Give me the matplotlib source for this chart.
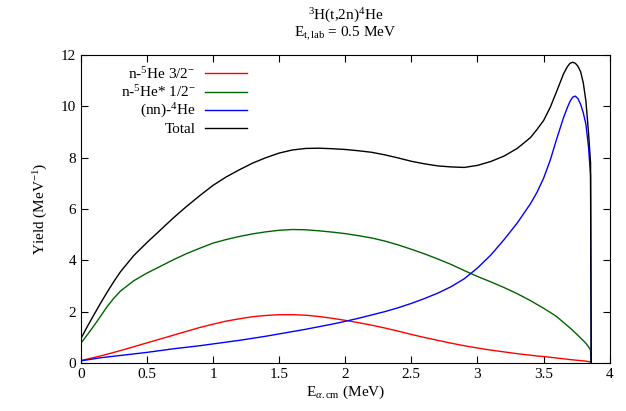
import matplotlib
matplotlib.use('Agg')
import matplotlib.pyplot as plt
from matplotlib.ticker import FormatStrFormatter, MultipleLocator

plt.rcParams['font.family'] = ['Liberation Serif', 'DejaVu Serif']
plt.rcParams['mathtext.fontset'] = 'custom'
plt.rcParams['mathtext.rm'] = 'Liberation Serif'
plt.rcParams['mathtext.it'] = 'Liberation Serif:italic'

# ====== data ======
e_cm = [0, 0.025, 0.05, 0.1, 0.15, 0.2, 0.25, 0.3, 0.4, 0.5, 0.6, 0.7, 0.8, 0.9,
        1.0, 1.1, 1.2, 1.3, 1.4, 1.5, 1.6, 1.7, 1.8, 1.9, 2.0, 2.1, 2.2, 2.3,
        2.4, 2.5, 2.6, 2.7, 2.8, 2.9, 3.0, 3.1, 3.2, 3.3, 3.4, 3.45, 3.5, 3.55,
        3.6, 3.65, 3.68, 3.7, 3.72, 3.74, 3.76, 3.78, 3.8, 3.82, 3.84, 3.855, 3.86]

y_he5_32 = [0.10, 0.12, 0.15, 0.21, 0.27, 0.34, 0.41, 0.48, 0.63, 0.78, 0.93, 1.08, 1.23, 1.38,
            1.51, 1.63, 1.72, 1.80, 1.85, 1.88, 1.88, 1.86, 1.81, 1.74, 1.66, 1.57, 1.47, 1.36,
            1.24, 1.11, 0.99, 0.88, 0.77, 0.67, 0.58, 0.50, 0.43, 0.36, 0.30, 0.27, 0.25, 0.22,
            0.19, 0.16, 0.145, 0.13, 0.12, 0.11, 0.10, 0.09, 0.08, 0.07, 0.05, 0.04, 0.0]

y_he5_12 = [0.76, 0.93, 1.10, 1.45, 1.82, 2.20, 2.52, 2.80, 3.20, 3.50, 3.76, 4.02, 4.26, 4.47,
            4.67, 4.81, 4.93, 5.03, 5.11, 5.17, 5.20, 5.19, 5.15, 5.10, 5.04, 4.96, 4.87, 4.75,
            4.60, 4.43, 4.25, 4.05, 3.84, 3.60, 3.37, 3.16, 2.94, 2.70, 2.43, 2.28, 2.13, 1.97,
            1.80, 1.58, 1.45, 1.36, 1.27, 1.17, 1.07, 0.97, 0.87, 0.76, 0.63, 0.50, 0.0]

y_nn = [0.08, 0.10, 0.12, 0.16, 0.20, 0.23, 0.26, 0.29, 0.35, 0.41, 0.48, 0.55, 0.61, 0.67,
        0.74, 0.81, 0.88, 0.96, 1.04, 1.13, 1.22, 1.31, 1.41, 1.51, 1.62, 1.74, 1.87, 2.00,
        2.15, 2.32, 2.51, 2.72, 2.97, 3.28, 3.70, 4.20, 4.80, 5.45, 6.20, 6.65, 7.20, 7.90,
        8.75, 9.55, 9.96, 10.20, 10.36, 10.40, 10.30, 10.08, 9.75, 9.30, 8.40, 7.30, 0.0]

y_total = [0.94, 1.18, 1.42, 1.88, 2.33, 2.76, 3.17, 3.55, 4.18, 4.69, 5.17, 5.65, 6.10, 6.52,
           6.92, 7.25, 7.53, 7.79, 8.00, 8.18, 8.30, 8.36, 8.37, 8.35, 8.32, 8.27, 8.21, 8.11,
           7.99, 7.86, 7.76, 7.68, 7.64, 7.62, 7.70, 7.85, 8.06, 8.36, 8.78, 9.10, 9.45, 9.96,
           10.60, 11.26, 11.55, 11.68, 11.72, 11.68, 11.56, 11.35, 10.92, 10.20, 8.95, 7.80, 0.0]

labels = ['n-$^5$He 3/2$^{-}$', 'n-$^5$He* 1/2$^{-}$', '(nn)-$^4$He', 'Total']
colors = ['#ff0000', '#006400', '#0000ff', '#000000']
# =======================================

fig = plt.figure(figsize=(6.26, 4.11), dpi=100)
ax = fig.add_axes([0.129, 0.117, 0.845, 0.749])

for ys, lab, col in zip([y_he5_32, y_he5_12, y_nn, y_total], labels, colors):
    ax.plot(e_cm, ys, color=col, lw=1.0, label=lab)

ax.set_xlim(0, 4)
ax.set_ylim(0, 12)
ax.xaxis.set_major_locator(MultipleLocator(0.5))
ax.yaxis.set_major_locator(MultipleLocator(2))
ax.xaxis.set_major_formatter(FormatStrFormatter('%g'))
ax.tick_params(direction='in', top=True, right=True, length=5, labelsize=11)

ax.set_xlabel(r'E$_{\alpha\mathrm{.cm}}$ (MeV)', fontsize=11, labelpad=2)
ax.set_ylabel(r'Yield (MeV$^{-1}$)', fontsize=11, labelpad=8)
ax.set_title('$^3$H(t,2n)$^4$He\nE$_{\\mathrm{t,lab}}$ = 0.5 MeV', fontsize=11,
             linespacing=0.95, pad=13)

ax.legend(loc='upper left', frameon=False, markerfirst=False, fontsize=11,
          handlelength=2.75, handletextpad=0.65, labelspacing=0.15,
          borderaxespad=0.3, bbox_to_anchor=(0.055, 1.0))

fig.savefig('out.png', dpi=100)
